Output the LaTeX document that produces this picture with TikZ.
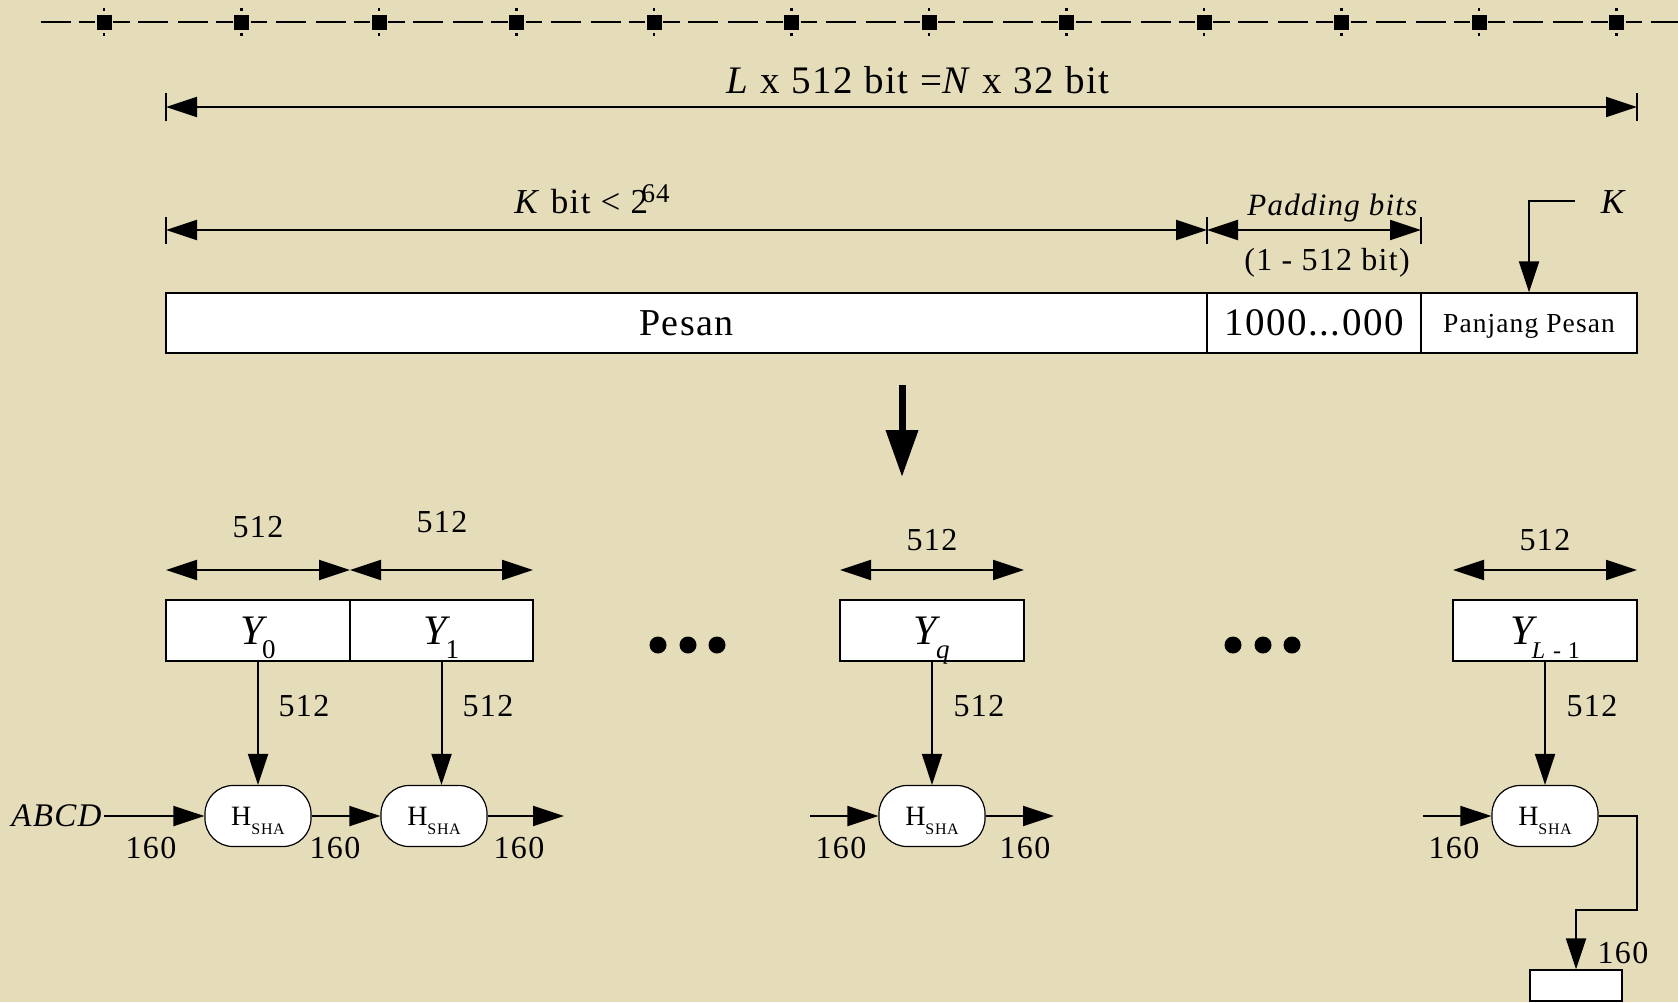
\documentclass[tikz,border=0pt]{standalone}
\usepackage{fontspec}
\setmainfont{Liberation Serif}[LetterSpace=4]
\usetikzlibrary{arrows.meta}
\definecolor{bg}{RGB}{229,221,186}
\newcommand\myfs[1]{\fontsize{#1}{#1}\selectfont}
\begin{document}
\begin{tikzpicture}[x=1pt,y=-1pt,
  box/.style={draw=black, line width=1.3pt, fill=white, inner sep=0pt, text depth=0pt},
  hsha/.style={draw=black, line width=1.2pt, fill=white, rounded corners=28pt, minimum width=106pt, minimum height=61pt, inner sep=0pt, text depth=0pt},
  conn/.style={line width=2pt, -{Triangle[length=31pt,width=20pt]}},
  dim/.style={line width=2pt, {Triangle[length=31pt,width=20pt]}-{Triangle[length=31pt,width=20pt]}},
  tick/.style={line width=1.6pt},
  lbl/.style={inner sep=0pt, anchor=base}]
\fill[bg] (0,0) rectangle (1678,1002);
\useasboundingbox (0,0) rectangle (1678,1002);
% top dashed rule
\begin{scope}
\clip (40,0) rectangle (1678,45);
\foreach \k in {-1,...,11} {
  \pgfmathsetmacro\c{104+137.5*\k}
  \draw[line width=2.6pt] (\c+9,22) -- (\c+25.5,22) (\c+34,22) -- (\c+64,22) (\c+74,22) -- (\c+104,22) (\c+112,22) -- (\c+128.5,22);
}
\foreach \k in {0,...,11} {
  \pgfmathsetmacro\c{104+137.5*\k}
  \fill (\c-7.5,14.5) rectangle (\c+7.5,29.5);
  \fill (\c-1.2,8) rectangle (\c+1.2,11);
  \fill (\c-1.2,33) rectangle (\c+1.2,36);
}
\end{scope}
% message bar
\node[box, minimum width=1041pt, minimum height=60pt] (pesan) at (686.5,323) {\myfs{38}Pesan};
\node[box, minimum width=214pt, minimum height=60pt] (pad) at (1314,323) {\myfs{39}1000...000};
\node[box, minimum width=216pt, minimum height=60pt] (panj) at (1529,323) {\myfs{27.5}Panjang Pesan};
% top dimension
\coordinate (t1) at (166,107);
\coordinate (t2) at (1637,107);
\draw[tick] (166,93) -- (166,121) (1637,93) -- (1637,121);
\draw[dim] (t1) -- (t2);
\node[lbl] (toplbl) at (918,93) {\myfs{39}\textit{L} x 512 bit =\textit{N} x 32 bit};
% second dimension
\coordinate (k1) at (166,230);
\coordinate (k2) at (1207,230);
\coordinate (k3) at (1421,230);
\draw[tick] (166,217) -- (166,244) (1207,217) -- (1207,244) (1421,217) -- (1421,244);
\draw[dim] (k1) -- (k2);
\draw[dim] (k2) -- (k3);
\node[lbl] (klab) at (592,213) {\myfs{35}\textit{K} bit < 2\kern-6.5pt\raisebox{11pt}{\myfs{27}64}};
\node[lbl] (padlab) at (1333,215) {\myfs{31}\textit{Padding bits}};
\node[lbl] (rangelab) at (1327,270) {\myfs{32}(1 - 512 bit)};
% K arrow
\node[inner sep=0pt] (klbl) at (1614,202) {\myfs{35}\textit{K}};
\coordinate (kc) at (1575,201);
\draw[conn] (kc) -| (panj.north);
% big arrow
\coordinate (ba1) at (902,385);
\coordinate (ba2) at (902,477);
\draw[line width=7pt, -{Triangle[length=47pt,width=31pt]}] (ba1) -- (ba2);
% blocks
\node[box, minimum width=184pt, minimum height=61pt] (y0) at (258,630.5) {\myfs{42}\textit{Y}\kern-7pt\raisebox{-14pt}{\myfs{27}0}};
\node[box, minimum width=183pt, minimum height=61pt] (y1) at (441.5,630.5) {\myfs{42}\textit{Y}\kern-7pt\raisebox{-14pt}{\myfs{27}1}};
\node[box, minimum width=184pt, minimum height=61pt] (yq) at (932,630.5) {\myfs{42}\textit{Y}\kern-6pt\raisebox{-14pt}{\myfs{27}\textit{q}}};
\node[box, minimum width=184pt, minimum height=61pt] (yl) at (1545,630.5) {\myfs{42}\textit{Y}\kern-7pt\raisebox{-14pt}{\myfs{24}\textit{L} - 1}};
% block dimensions
\coordinate (a0) at (166,570);
\coordinate (a1) at (350,570);
\coordinate (a2) at (533,570);
\coordinate (aq1) at (840,570);
\coordinate (aq2) at (1024,570);
\coordinate (al1) at (1453,570);
\coordinate (al2) at (1637,570);
\draw[dim] (a0) -- (a1);
\draw[dim] (a1) -- (a2);
\draw[dim] (aq1) -- (aq2);
\draw[dim] (al1) -- (al2);
\node[lbl] (w0) at (258,537) {\myfs{32}512};
\node[lbl] (w1) at (442,532) {\myfs{32}512};
\node[lbl] (wq) at (932,550) {\myfs{32}512};
\node[lbl] (wl) at (1545,550) {\myfs{32}512};
% dots
\fill (658,645) circle (8.5pt) (688,645) circle (8.5pt) (717,645) circle (8.5pt);
\fill (1233,645) circle (8.5pt) (1263,645) circle (8.5pt) (1292,645) circle (8.5pt);
% hash nodes
\node[hsha] (h0) at (258,816) {\myfs{28}H\raisebox{-9pt}{\myfs{16}SHA}};
\node[hsha] (h1) at (434,816) {\myfs{28}H\raisebox{-9pt}{\myfs{16}SHA}};
\node[hsha] (hq) at (932,816) {\myfs{28}H\raisebox{-9pt}{\myfs{16}SHA}};
\node[hsha] (hl) at (1545,816) {\myfs{28}H\raisebox{-9pt}{\myfs{16}SHA}};
% vertical arrows
\draw[conn] (y0.south) -- (y0.south |- h0.north);
\draw[conn] (y1.south) -- (y1.south |- h1.north);
\draw[conn] (yq.south) -- (yq.south |- hq.north);
\draw[conn] (yl.south) -- (yl.south |- hl.north);
\node[lbl] (v0) at (304,716) {\myfs{32}512};
\node[lbl] (v1) at (488,716) {\myfs{32}512};
\node[lbl] (vq) at (979,716) {\myfs{32}512};
\node[lbl] (vl) at (1592,716) {\myfs{32}512};
% chaining
\node[anchor=east, inner sep=1pt] (abcd) at (104,816) {\myfs{33}\textit{ABCD}};
\coordinate (o1) at (564,816);
\coordinate (iq) at (810,816);
\coordinate (oq) at (1054,816);
\coordinate (il) at (1423,816);
\coordinate (r2) at (1637,910);
\draw[conn] (abcd.east) -- (h0.west);
\draw[conn] (h0.east) -- (h1.west);
\draw[conn] (h1.east) -- (o1);
\draw[conn] (iq) -- (hq.west);
\draw[conn] (hq.east) -- (oq);
\draw[conn] (il) -- (hl.west);
\node[box, minimum width=92pt, minimum height=31pt] (fin) at (1576,985.5) {};
\draw[conn] (hl.east) -| (r2) -| (fin.north);
\node[lbl] (c0) at (151,858) {\myfs{32}160};
\node[lbl] (c1) at (335,858) {\myfs{32}160};
\node[lbl] (c2) at (519,858) {\myfs{32}160};
\node[lbl] (c3) at (841,858) {\myfs{32}160};
\node[lbl] (c4) at (1025,858) {\myfs{32}160};
\node[lbl] (c5) at (1454,858) {\myfs{32}160};
\node[lbl] (c6) at (1623,963) {\myfs{32}160};
\end{tikzpicture}
\end{document}
